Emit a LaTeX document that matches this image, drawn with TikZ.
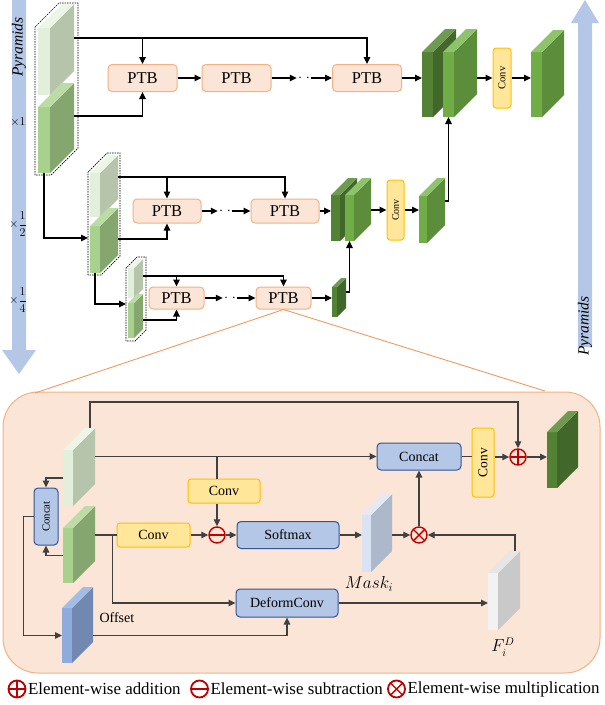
\documentclass[tikz,border=0pt]{standalone}
\usepackage{fontspec}
\setmainfont{Liberation Serif}
\usepackage{graphicx}
\usetikzlibrary{arrows.meta}

\definecolor{ptbfill}{HTML}{FBE5D6}
\definecolor{ptbline}{HTML}{F4B183}
\definecolor{convfill}{HTML}{FFE699}
\definecolor{convline}{HTML}{FFC000}
\definecolor{bluefill}{HTML}{B4C7E7}
\definecolor{blueline}{HTML}{2F5597}
\definecolor{pyrblue}{HTML}{B4C7E7}
\definecolor{zoomline}{HTML}{F19A5E}
\definecolor{opred}{HTML}{C00000}
\definecolor{wire}{HTML}{404040}
% feature map colours: front, side, top
\definecolor{lgF}{HTML}{E2EFDA}\definecolor{lgS}{HTML}{B6C4AB}\definecolor{lgT}{HTML}{EDF5E7}
\definecolor{mgF}{HTML}{A9D18E}\definecolor{mgS}{HTML}{85A66F}\definecolor{mgT}{HTML}{BBDCA4}
\definecolor{dgF}{HTML}{548235}\definecolor{dgS}{HTML}{41672A}\definecolor{dgT}{HTML}{6F9A52}
\definecolor{ggF}{HTML}{70AD47}\definecolor{ggS}{HTML}{5B8D3A}\definecolor{ggT}{HTML}{8DC36A}
\definecolor{bkF}{HTML}{DAE3F3}\definecolor{bkS}{HTML}{ADB9CA}\definecolor{bkT}{HTML}{E4EAF5}
\definecolor{wkF}{HTML}{F2F2F2}\definecolor{wkS}{HTML}{C9C9C9}\definecolor{wkT}{HTML}{E6E6E6}
\definecolor{ofF}{HTML}{8FAADC}\definecolor{ofS}{HTML}{7189B1}\definecolor{ofT}{HTML}{A4BCE6}

% name, x, y (front top left), w, h, depth, front, side, top
\newcommand\slab[9]{%
  \fill[#7] (#2,#3) rectangle ++(#4,#5);
  \fill[#8] (#2+#4,#3) -- ++(#6,-#6) -- ++(0,#5) -- ++(-#6,#6) -- cycle;
  \fill[#9] (#2,#3) -- ++(#6,-#6) -- ++(#4,0) -- ++(-#6,#6) -- cycle;
  \node[inner sep=0, outer sep=0, minimum width=#4pt, minimum height=#5pt] (#1f) at ({#2+#4/2},{#3+#5/2}) {};
  \node[inner sep=0, outer sep=0, minimum width={(#4+#6)*1pt}, minimum height={(#5+#6)*1pt}] (#1) at ({#2+(#4+#6)/2},{#3+(#5-#6)/2}) {};
}

\tikzset{
  ptb/.style={draw=ptbline, fill=ptbfill, rounded corners=4pt, line width=1pt, minimum width=69pt, minimum height=27pt, inner sep=0, font=\fontsize{16.5}{17}\selectfont},
  convbox/.style={draw=convline, fill=convfill, rounded corners=3pt, line width=1pt, inner sep=0, font=\fontsize{14}{14}\selectfont},
  bluebox/.style={draw=blueline, fill=bluefill, rounded corners=4pt, line width=1pt, inner sep=0, font=\fontsize{14}{14}\selectfont},
  dotsbox/.style={inner sep=1pt, font=\fontsize{14}{14}\selectfont},
  arr/.style={-{Triangle[length=7pt,width=6.5pt]}, line width=1.1pt},
  parr/.style={arr, draw=wire},
  wireline/.style={draw=wire, line width=1.1pt},
  opnode/.style={circle, draw=opred, line width=1.4pt, minimum size=16pt, inner sep=0},
  oplus/.style={opnode, path picture={\draw[opred, line width=1.4pt] (path picture bounding box.north) -- (path picture bounding box.south) (path picture bounding box.west) -- (path picture bounding box.east);}},
  ominus/.style={opnode, path picture={\draw[opred, line width=1.4pt] (path picture bounding box.west) -- (path picture bounding box.east);}},
  otimes/.style={opnode, path picture={\draw[opred, line width=1.4pt] (path picture bounding box.north west) -- (path picture bounding box.south east) (path picture bounding box.north east) -- (path picture bounding box.south west);}},
  legsym/.style={minimum size=17pt, line width=1.8pt},
  legtext/.style={anchor=west, inner sep=1.5pt, font=\fontsize{16.9}{17}\selectfont},
  outline/.style={draw=black, line width=0.7pt, dash pattern=on 1.5pt off 1pt},
  scalelab/.style={font=\fontsize{13}{13}\selectfont},
}

\begin{document}
\begin{tikzpicture}[x=1pt, y=-1pt]
    \useasboundingbox (0,0) rectangle (605,705);

    % pyramid arrows
    \fill[pyrblue] (12,0) rectangle (26,350) (2,350) -- (36,350) -- (19,374) -- cycle;
    \fill[pyrblue] (578,347) rectangle (592,23) (571,23) -- (599,23) -- (585,0) -- cycle;
    \node[rotate=90, font=\itshape\fontsize{15.5}{16}\selectfont] (pyrL) at (19,47) {Pyramids};
    \node[rotate=90, font=\itshape\fontsize{15.5}{16}\selectfont] (pyrR) at (585,326) {Pyramids};
    \node[scalelab] (sc1) at (18,122) {$\times 1$};
    \node[scalelab] (sc2) at (18,224) {$\times\displaystyle\frac{1}{2}$};
    \node[scalelab] (sc4) at (18,300) {$\times\displaystyle\frac{1}{4}$};

    % stacks
    \slab{sA1}{38}{28}{12}{67}{24}{lgF}{lgS}{lgT}
    \slab{sA2}{38}{107}{12}{66}{24}{mgF}{mgS}{mgT}
    \draw[outline] (35,175) -- (35,27) -- (59,3) -- (78,3) -- (78,148) -- (51,175) -- cycle;
    \slab{sB1}{90}{173}{10}{44}{18}{lgF}{lgS}{lgT}
    \slab{sB2}{90}{226}{10}{47}{18}{mgF}{mgS}{mgT}
    \draw[outline] (88,275) -- (88,172) -- (107,153) -- (120,153) -- (120,256) -- (101,275) -- cycle;
    \slab{sC1}{128}{268}{6}{30}{9}{lgF}{lgS}{lgT}
    \slab{sC2}{128}{303}{6}{35}{9}{mgF}{mgS}{mgT}
    \draw[outline] (126,341) -- (126,268) -- (137,257) -- (146,257) -- (146,330) -- (135,341) -- cycle;

    % stack to stack
    \coordinate (inB) at (88,238);
    \coordinate (inC) at (126,304);
    \draw[arr] (sA2f.south) |- (inB);
    \draw[arr] (sB2f.south) |- (inC);

    % rows
    \coordinate (rowA) at (0,38);
    \coordinate (rowAb) at (0,116);
    \coordinate (rowB) at (0,177);
    \coordinate (rowBb) at (0,239);
    \coordinate (rowC) at (0,276);
    \coordinate (rowCb) at (0,320);

    % top row, x1
    \node[ptb] (ptbA1) at (142.5,78) {PTB};
    \node[ptb] (ptbA2) at (236.5,78) {PTB};
    \node[ptb] (ptbA3) at (367,78) {PTB};
    \node[dotsbox] (dotsA) at (304,78) {$\cdot\;\cdot$};
    \draw[arr] (sA1.east |- rowA) -| (ptbA3);
    \draw[arr] (ptbA1 |- rowA) -- (ptbA1);
    \draw[arr] (sA2.east |- rowAb) -| (ptbA1);
    \draw[arr] (ptbA1) -- (ptbA2);
    \draw[arr] (ptbA2) -- (dotsA);
    \draw[arr] (dotsA) -- (ptbA3);
    \slab{gA}{422}{52}{11}{65}{23}{dgF}{dgS}{dgT}
    \slab{gB}{443}{52}{11}{65}{23}{ggF}{ggS}{ggT}
    \node[convbox, minimum width=18pt, minimum height=60pt, font=\fontsize{10.5}{11}\selectfont] (convA) at (502,78) {\rotatebox{90}{Conv}};
    \slab{gC}{531}{52}{11}{65}{22}{ggF}{ggS}{ggT}
    \draw[arr] (ptbA3) -- (ptbA3 -| gAf.west);
    \draw[arr] (gB.east |- convA) -- (convA);
    \draw[arr] (convA) -- (convA -| gCf.west);

    % middle row, x1/2
    \node[ptb, minimum width=68pt, minimum height=24pt] (ptbB1) at (167,211) {PTB};
    \node[ptb, minimum width=68pt, minimum height=24pt] (ptbB2) at (285,211) {PTB};
    \node[dotsbox] (dotsB) at (225,211) {$\cdot\;\cdot$};
    \draw[arr] (sB1.east |- rowB) -| (ptbB2);
    \draw[arr] (ptbB1 |- rowB) -- (ptbB1);
    \draw[arr] (sB2.east |- rowBb) -| (ptbB1);
    \draw[arr] (ptbB1) -- (dotsB);
    \draw[arr] (dotsB) -- (ptbB2);
    \slab{gM1}{331}{195}{9}{46}{17}{dgF}{dgS}{dgT}
    \slab{gM2}{345}{195}{9}{46}{17}{ggF}{ggS}{ggT}
    \node[convbox, minimum width=17pt, minimum height=60pt, font=\fontsize{10}{10}\selectfont] (convB) at (395.5,210) {\rotatebox{90}{Conv}};
    \slab{gM3}{419}{196}{8}{47}{18}{ggF}{ggS}{ggT}
    \draw[arr] (ptbB2) -- (ptbB2 -| gM1f.west);
    \draw[arr] (gM2.east |- convB) -- (convB);
    \draw[arr] (convB) -- (convB -| gM3f.west);
    \coordinate (rowMo) at (0,201);
    \draw[arr] (gM3.east |- rowMo) -| (gBf.south);

    % bottom row, x1/4
    \node[ptb, minimum width=55pt, minimum height=22pt] (ptbC1) at (176.5,298) {PTB};
    \node[ptb, minimum width=55pt, minimum height=22pt] (ptbC2) at (283.5,298) {PTB};
    \node[dotsbox] (dotsC) at (230,298) {$\cdot\;\cdot$};
    \draw[arr] (sC1.east |- rowC) -| (ptbC2);
    \draw[arr] (ptbC1 |- rowC) -- (ptbC1);
    \draw[arr] (sC2.east |- rowCb) -| (ptbC1);
    \draw[arr] (ptbC1) -- (dotsC);
    \draw[arr] (dotsC) -- (ptbC2);
    \slab{gBo}{332}{287}{5}{30}{9}{dgF}{dgS}{dgT}
    \draw[arr] (ptbC2) -- (ptbC2 -| gBof.west);
    \coordinate (rowBo) at (0,292);
    \draw[arr] (gBo.east |- rowBo) -| (gM2f.south);

    % PTB detail panel
    \draw[draw=ptbline, fill=ptbfill, line width=1pt, rounded corners=35pt] (3,392) rectangle (600,673);
    \coordinate (zl) at (35,393);
    \coordinate (zr) at (545,391);
    \draw[zoomline, line width=0.9pt] (zl) -- (ptbC2.south) -- (zr);

    \slab{pT}{63}{450}{10}{56}{22}{lgF}{lgS}{lgT}
    \slab{pL}{63}{528}{10}{55}{22}{mgF}{mgS}{mgT}
    \slab{pO}{62}{608}{10}{55}{21}{ofF}{ofS}{ofT}
    \slab{pM}{362}{515}{9}{57}{21}{bkF}{bkS}{bkT}
    \slab{pF}{488}{573}{10}{57}{22}{wkF}{wkS}{wkT}
    \slab{pG}{547}{432}{10}{56}{21}{dgF}{dgS}{dgT}

    \node[bluebox, minimum width=24pt, minimum height=57pt, font=\fontsize{10.8}{11}\selectfont] (concatS) at (46,516.5) {\rotatebox{90}{Concat}};
    \node[bluebox, minimum width=84pt, minimum height=27pt] (concatL) at (419,456.5) {Concat};
    \node[convbox, minimum width=72pt, minimum height=24pt] (convP1) at (224,491) {Conv};
    \node[convbox, minimum width=73pt, minimum height=24pt] (convP2) at (153.5,535) {Conv};
    \node[convbox, minimum width=22pt, minimum height=69pt, font=\fontsize{13.5}{14}\selectfont] (convP3) at (483,462.5) {\rotatebox{90}{Conv}};
    \node[bluebox, minimum width=102pt, minimum height=27pt] (softmax) at (288,535) {Softmax};
    \node[bluebox, minimum width=102pt, minimum height=28pt] (deform) at (287,603) {DeformConv};
    \node[ominus] (minus) at (217,535) {};
    \node[otimes] (times) at (419,535) {};
    \node[oplus] (plus) at (518,457) {};
    \node[anchor=west, font=\fontsize{14}{14}\selectfont] (offl) at (96,618) {Offset};
    \node[font=\fontsize{16.5}{16}\selectfont] (maskl) at (369,584) {$Mask_i$};
    \node[font=\fontsize{16}{16}\selectfont] (fl) at (503,647) {$F_i^D$};

    % concat of the two inputs to offset
    \draw[parr] (pTf.west) -| (concatS);
    \draw[parr] (pLf.west) -| (concatS);
    \draw[parr] (concatS.west) -- ++(-10,0) |- (pOf.west);
    % skip to addition
    \draw[parr] ([xshift=11pt]pT.north) -- ++(0,-26) -| (plus);
    % reference branch
    \draw[parr] (pT.east |- concatL) -- (concatL);
    \draw[wireline] (minus |- concatL) -- (minus |- convP1.north);
    \draw[parr] (minus |- convP1.south) -- (minus);
    % neighbour branch
    \draw[wireline] (pL.east |- convP2) -- (convP2);
    \draw[parr] (convP2) -- (minus);
    \draw[parr] (minus) -- (softmax);
    \draw[parr] ([xshift=-4pt]convP2.west) |- (deform);
    \draw[parr] (pO.east |- pOf) -| (deform);
    % mask times deformed
    \draw[parr] (softmax) -- (softmax -| pMf.west);
    \draw[parr] (pM.east |- times) -- (times);
    \draw[parr] (deform) -- (deform -| pFf.west);
    \draw[parr] ([xshift=11pt]pF.north) |- (times);
    \draw[parr] (times) -- (concatL);
    % out
    \draw[wireline] (concatL) -- (concatL -| convP3.west);
    \draw[parr] (convP3.east |- plus) -- (plus);
    \draw[parr] (plus) -- (plus -| pGf.west);

    % legend
    \node[oplus, legsym] (lgplus) at (17,689) {};
    \node[legtext] (lgplust) at (lgplus.east) {Element-wise addition};
    \node[ominus, legsym] (lgminus) at (199.5,689) {};
    \node[legtext] (lgminust) at (lgminus.east) {Element-wise subtraction};
    \node[otimes, legsym] (lgtimes) at (396.5,689) {};
    \node[legtext] (lgtimest) at (lgtimes.east) {Element-wise multiplication};
\end{tikzpicture}
\end{document}
